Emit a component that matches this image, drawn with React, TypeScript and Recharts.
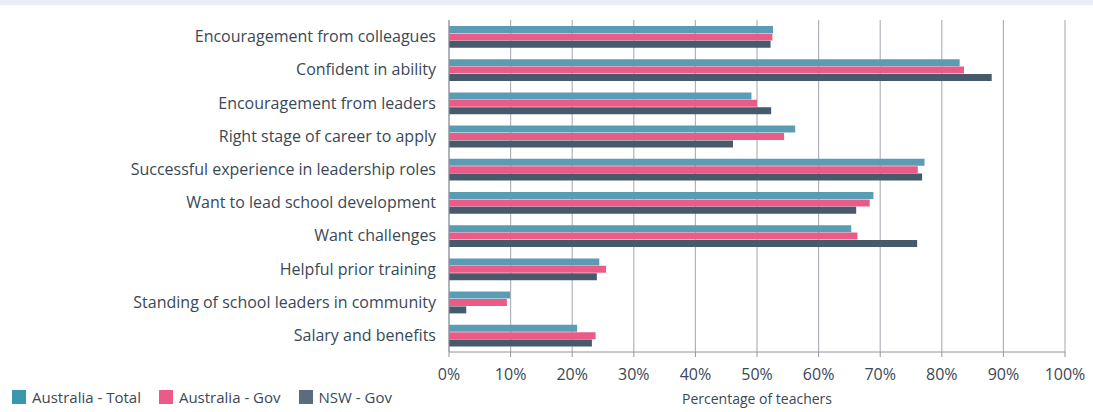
import React from "react";
import { BarChart, Bar, XAxis, YAxis, CartesianGrid } from "recharts";

const categories = [
  "Encouragement from colleagues",
  "Confident in ability",
  "Encouragement from leaders",
  "Right stage of career to apply",
  "Successful experience in leadership roles",
  "Want to lead school development",
  "Want challenges",
  "Helpful prior training",
  "Standing of school leaders in community",
  "Salary and benefits",
];
const australiaTotal = [52.6, 82.9, 49.1, 56.2, 77.2, 68.9, 65.3, 24.4, 9.9, 20.8];
const australiaGov = [52.5, 83.6, 50.0, 54.4, 76.1, 68.3, 66.3, 25.5, 9.4, 23.8];
const nswGov = [52.2, 88.1, 52.3, 46.1, 76.8, 66.1, 76.0, 24.0, 2.8, 23.2];
const xTicks = [0, 10, 20, 30, 40, 50, 60, 70, 80, 90, 100];
const boundaryTicks = [0, 1, 2, 3, 4, 5, 6, 7, 8, 9, 10];

const seriesNames = ["Australia - Total", "Australia - Gov", "NSW - Gov"];
const barColors = ["#5a9cb3", "#ea5c87", "#475a6b"];
const legendColors = ["#3a97b0", "#ea5c87", "#5b6d7d"];

const data = categories.map((c, i) => ({
  name: c,
  total: australiaTotal[i],
  gov: australiaGov[i],
  nsw: nswGov[i],
}));

const FONT = "'Open Sans', sans-serif";
const TEXT = "#3b4856";
const AXIS = "#8f959c";

export default function App() {
  return (
    <div style={{ position: "fixed", left: 0, top: 0, width: 1093, height: 412, background: "#fff", fontFamily: FONT }}>
      <div style={{ position: "absolute", left: 0, top: 0, width: 1093, height: 5, background: "#e9eef6", zIndex: 2 }} />
      <BarChart
        width={1093}
        height={412}
        data={data}
        layout="vertical"
        margin={{ top: 20, right: 28, left: 0, bottom: 0 }}
        barCategoryGap="17%"
        barGap={0.4}
      >
        <CartesianGrid horizontal={false} stroke="#b0b4ba" strokeWidth={1.2} />
        <XAxis
          type="number"
          domain={[0, 100]}
          ticks={xTicks}
          tickFormatter={(v: number) => `${v}%`}
          height={60}
          stroke={AXIS}
          tickSize={5}
          tickMargin={12}
          tick={{ fill: TEXT, fontSize: 16, fontFamily: FONT }}
          interval={0}
          label={{ value: "Percentage of teachers", position: "insideBottom", offset: 8, fill: TEXT, fontSize: 14, fontFamily: FONT }}
        />
        <YAxis
          yAxisId="cat"
          type="category"
          dataKey="name"
          width={448}
          axisLine={false}
          tickLine={false}
          tickSize={0}
          tickMargin={12}
          interval={0}
          tick={{ fill: TEXT, fontSize: 16, fontFamily: FONT }}
        />
        <YAxis
          yAxisId="bounds"
          type="number"
          domain={[0, 10]}
          ticks={boundaryTicks}
          width={1}
          tick={false}
          tickLine={{ stroke: AXIS }}
          tickSize={6}
          stroke={AXIS}
          interval={0}
        />
        <Bar yAxisId="cat" dataKey="total" name={seriesNames[0]} fill={barColors[0]} barSize={7} isAnimationActive={false} />
        <Bar yAxisId="cat" dataKey="gov" name={seriesNames[1]} fill={barColors[1]} barSize={7} isAnimationActive={false} />
        <Bar yAxisId="cat" dataKey="nsw" name={seriesNames[2]} fill={barColors[2]} barSize={7} isAnimationActive={false} />
      </BarChart>
      <div style={{ position: "absolute", left: 12, top: 389, display: "flex", alignItems: "center", fontSize: 15, color: TEXT, whiteSpace: "nowrap", lineHeight: "16px" }}>
        {seriesNames.map((n, i) => (
          <div key={n} style={{ display: "flex", alignItems: "center", marginRight: 18 }}>
            <div style={{ width: 14, height: 14, background: legendColors[i], marginRight: 6 }} />
            <span>{n}</span>
          </div>
        ))}
      </div>
    </div>
  );
}
